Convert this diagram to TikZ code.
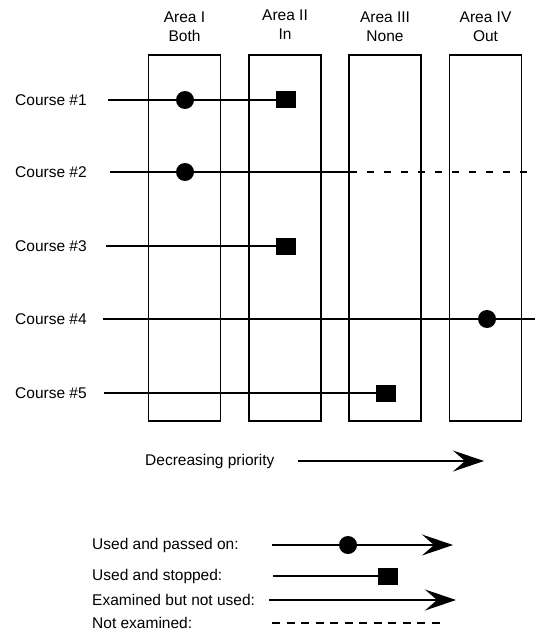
\documentclass[tikz,border=0pt]{standalone}
\usepackage{fontspec}
\setmainfont{Liberation Sans}
\usetikzlibrary{arrows.meta}
\begin{document}
\begin{tikzpicture}[x=1pt,y=-1pt,
  lbl/.style={font=\fontsize{15.5}{19}\selectfont, inner sep=0pt},
  hdr/.style={lbl, align=center},
  area/.style={draw, line width=1.3pt, minimum width=72pt, minimum height=366pt, inner sep=0pt},
  used/.style={fill=black, circle, minimum size=18pt, inner sep=0pt},
  stopped/.style={fill=black, rectangle, minimum width=20pt, minimum height=17pt, inner sep=0pt},
  course/.style={line width=1.3pt},
  notex/.style={course, dash pattern=on 7pt off 10pt, dash phase=7pt},
  prio/.style={course, -{Stealth[length=31pt,width=21pt,inset=12pt]}}
]
\useasboundingbox (0,0) rectangle (535,631);

% area columns and their headings
\node[area] (A1) at (184.5,238) {};
\node[area] (A2) at (285,238) {};
\node[area] (A3) at (385,238) {};
\node[area] (A4) at (485.5,238) {};
\node[hdr] (h1) at (184.5,27) {Area I\\Both};
\node[hdr] (h2) at (285,25) {Area II\\In};
\node[hdr] (h3) at (385,27) {Area III\\None};
\node[hdr] (h4) at (485.5,27) {Area IV\\Out};

% course labels
\node[lbl, anchor=west] (k1) at (15,100) {Course \#1};
\node[lbl, anchor=west] (k2) at (15,172) {Course \#2};
\node[lbl, anchor=west] (k3) at (15,246) {Course \#3};
\node[lbl, anchor=west] (k4) at (15,319) {Course \#4};
\node[lbl, anchor=west] (k5) at (15,393) {Course \#5};

% markers
\node[used] (c1) at (185,100) {};
\node[stopped] (q1) at (286,100) {};
\node[used] (c2) at (185,172) {};
\node[stopped] (q3) at (286,246) {};
\node[used] (c4) at (487,319) {};
\node[stopped] (q5) at (386,393) {};

% course line ends
\coordinate (s1) at (108,100);
\coordinate (s2) at (110,172);
\coordinate (d2) at (357,172);
\coordinate (e2) at (535,172);
\coordinate (s3) at (106,246);
\coordinate (s4) at (103,319);
\coordinate (e4) at (535,319);
\coordinate (s5) at (104,393);

\draw[course] (s1) -- (c1) -- (q1);
\draw[course] (s2) -- (c2) -- (d2);
\draw[notex] (d2) -- (e2);
\draw[course] (s3) -- (q3);
\draw[course] (s4) -- (c4) -- (e4);
\draw[course] (s5) -- (q5);

% priority direction
\node[lbl, anchor=west] (pl) at (145,461) {Decreasing priority};
\coordinate (p0) at (298,461);
\coordinate (p1) at (484,461);
\draw[prio] (p0) -- (p1);

% legend
\node[lbl, anchor=west] (l1) at (92,545) {Used and passed on:};
\node[lbl, anchor=west] (l2) at (92,576) {Used and stopped:};
\node[lbl, anchor=west] (l3) at (92,600) {Examined but not used:};
\node[lbl, anchor=west] (l4) at (92,623) {Not examined:};

\node[used] (la) at (348,545) {};
\node[stopped] (lb) at (388,576) {};
\coordinate (a0) at (272,545);
\coordinate (a1) at (453,545);
\coordinate (b0) at (273,576);
\coordinate (x0) at (269,600);
\coordinate (x1) at (456,600);
\coordinate (n0) at (272,623);
\coordinate (n1) at (440,623);

\draw[course] (a0) -- (la);
\draw[prio] (la) -- (a1);
\draw[course] (b0) -- (lb);
\draw[prio] (x0) -- (x1);
\draw[course, dash pattern=on 8pt off 6.5pt] (n0) -- (n1);
\end{tikzpicture}
\end{document}
